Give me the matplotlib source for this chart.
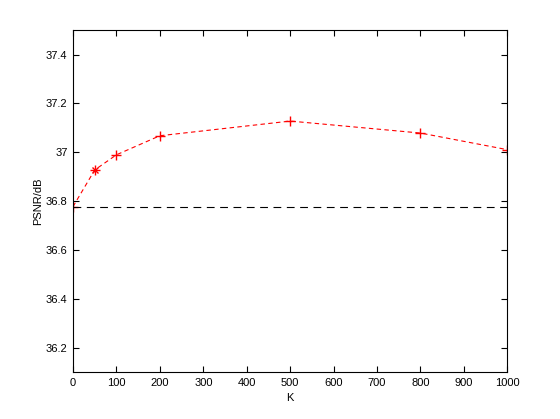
import numpy as np
import matplotlib
matplotlib.use('Agg')
import matplotlib.pyplot as plt

# values
k_values = [0, 50, 100, 200, 500, 800, 1000]
psnr_values = [36.778, 36.928, 36.99, 37.068, 37.128, 37.079, 37.011]
baseline_psnr = 36.778
star_k = [50]
star_psnr = [36.928]

x_ticks = [0, 100, 200, 300, 400, 500, 600, 700, 800, 900, 1000]
y_ticks = [36.2, 36.4, 36.6, 36.8, 37.0, 37.2, 37.4]
y_tick_labels = ['36.2', '36.4', '36.6', '36.8', '37', '37.2', '37.4']

plt.rcParams['font.family'] = ['Liberation Sans', 'DejaVu Sans']
plt.rcParams['font.size'] = 8

fig = plt.figure(figsize=(5.6, 4.19), dpi=100)
ax = fig.add_axes([0.1304, 0.1115, 0.7756, 0.8165])

ax.plot(k_values, psnr_values, color='red', linestyle=(0, (4, 3)), linewidth=0.8,
        marker='+', markersize=7, markeredgewidth=1.0)
ax.plot(star_k, star_psnr, linestyle='none', color='red', marker='x',
        markersize=4.5, markeredgewidth=1.0)
ax.axhline(baseline_psnr, color='black', linestyle=(0, (7, 5)), linewidth=0.8)

ax.set_xlim(0, 1000)
ax.set_ylim(36.1, 37.5)
ax.set_xticks(x_ticks)
ax.set_yticks(y_ticks)
ax.set_yticklabels(y_tick_labels)
ax.tick_params(direction='in', top=True, right=True, length=4, width=0.8, pad=4)
for spine in ax.spines.values():
    spine.set_linewidth(0.8)

ax.set_xlabel('K', labelpad=4)
ax.set_ylabel('PSNR/dB', labelpad=2)

fig.savefig('out.png', dpi=100)
